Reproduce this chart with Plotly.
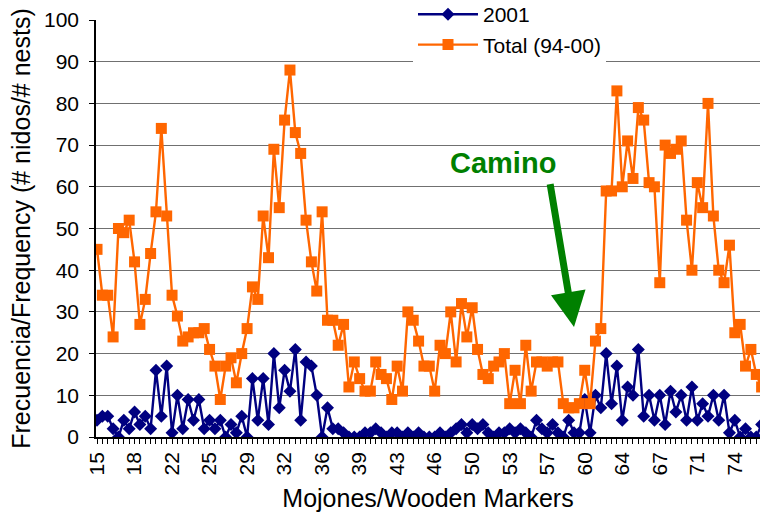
import plotly.graph_objects as go

# Each wooden marker was sampled twice, so every marker number appears two times
markers = [str(m) for m in range(15, 78) for _ in range(2)][:125]

# Nest frequency, season 2001
nests_2001 = [
    4, 5, 5, 2, 0, 4, 2, 6, 3, 5, 2, 16, 5, 17, 1, 10, 2, 9, 4, 9,
    2, 4, 2, 4, 0, 3, 1, 5, 0, 14, 4, 14, 3, 20, 7, 16, 11, 21, 4, 18,
    17, 10, 0, 7, 2, 2, 1, 0, 0, 0, 1, 1, 2, 1, 0, 1, 1, 0, 1, 0,
    1, 0, 0, 0, 1, 0, 1, 2, 3, 1, 3, 2, 3, 1, 0, 1, 1, 2, 1, 2,
    1, 0, 4, 2, 1, 3, 1, 0, 4, 1, 1, 9, 1, 10, 7, 20, 8, 17, 4, 12,
    10, 21, 5, 10, 4, 10, 3, 11, 6, 10, 4, 12, 4, 8, 5, 10, 4, 10, 1, 4,
    0, 2, 0, 0, 3,
]

# Nest frequency, seasons 1994-2000 combined
nests_total = [
    45, 34, 34, 24, 50, 49, 52, 42, 27, 33, 44, 54, 74, 53, 34, 29, 23, 24, 25, 25,
    26, 21, 17, 9, 17, 19, 13, 20, 26, 36, 33, 53, 43, 69, 55, 76, 88, 73, 68, 52,
    42, 35, 54, 28, 28, 22, 27, 12, 18, 14, 11, 11, 18, 15, 14, 9, 17, 11, 30, 28,
    23, 17, 17, 11, 22, 20, 30, 18, 32, 24, 31, 21, 15, 14, 17, 18, 20, 8, 16, 8,
    22, 11, 18, 18, 17, 18, 18, 8, 7, 7, 8, 16, 8, 23, 26, 59, 59, 83, 60, 71,
    62, 79, 76, 61, 60, 37, 70, 68, 69, 71, 52, 40, 61, 55, 80, 53, 40, 37, 46, 25,
    27, 17, 21, 15, 12,
]

label_step = 7
x_index = list(range(len(markers)))
tick_positions = x_index[::label_step][:18]
tick_labels = [markers[i] for i in tick_positions]

FONT = "Liberation Sans"
NAVY = "#000080"
ORANGE = "#FF6600"
GREEN = "#008000"

fig = go.Figure()
fig.add_trace(go.Scatter(
    x=x_index, y=nests_2001, name="2001", mode="lines+markers",
    line=dict(color=NAVY, width=2.4),
    marker=dict(symbol="diamond", size=10, color=NAVY),
))
fig.add_trace(go.Scatter(
    x=x_index, y=nests_total, name="Total (94-00)", mode="lines+markers",
    line=dict(color=ORANGE, width=2.4),
    marker=dict(symbol="square", size=11, color=ORANGE),
))

# Road crossing callout
fig.add_annotation(
    x=89, y=26.4, xref="x", yref="y",
    ax=84.5, ay=61, axref="x", ayref="y",
    text="", showarrow=True, arrowhead=2, arrowsize=1.0, arrowwidth=7,
    arrowcolor=GREEN,
)
fig.add_annotation(
    x=75.7, y=65.7, xref="x", yref="y", text="<b>Camino</b>", showarrow=False,
    font=dict(family=FONT, size=29, color=GREEN),
)

# White backing for the legend area so the gridlines stop at its edges
fig.add_shape(
    type="rect", xref="paper", yref="paper",
    x0=0.4774, x1=0.786, y0=0.875, y1=1.05,
    fillcolor="white", line=dict(width=0), layer="between",
)

fig.update_layout(
    width=760, height=512,
    margin=dict(l=96, r=0, t=20, b=75, autoexpand=False),
    paper_bgcolor="white", plot_bgcolor="white",
    font=dict(family=FONT, size=21, color="black"),
    showlegend=True,
    legend=dict(
        x=0.4774, y=1.062, xanchor="left", yanchor="top",
        bgcolor="white", borderwidth=0, itemwidth=60,
        font=dict(family=FONT, size=21, color="black"),
    ),
    xaxis=dict(
        range=[-0.19, 123.7],
        tickmode="array", tickvals=tick_positions, ticktext=tick_labels,
        tickangle=-90, ticks="outside", ticklen=5, tickcolor="black",
        minor=dict(dtick=1, tick0=0, ticks="outside", ticklen=5, tickcolor="black"),
        showline=True, linecolor="black", linewidth=1.5,
        showgrid=False, zeroline=False,
        title=dict(text="Mojones/Wooden Markers", standoff=17),
    ),
    yaxis=dict(
        range=[0, 100], dtick=10,
        ticks="outside", ticklen=5, tickcolor="black", ticklabelstandoff=6,
        showline=True, linecolor="black", linewidth=1.5,
        showgrid=True, gridcolor="#707070", gridwidth=1,
        zeroline=False,
        title=dict(text="Frecuencia/Frequency (# nidos/# nests)", standoff=6),
    ),
)

fig.write_html("out.html")
